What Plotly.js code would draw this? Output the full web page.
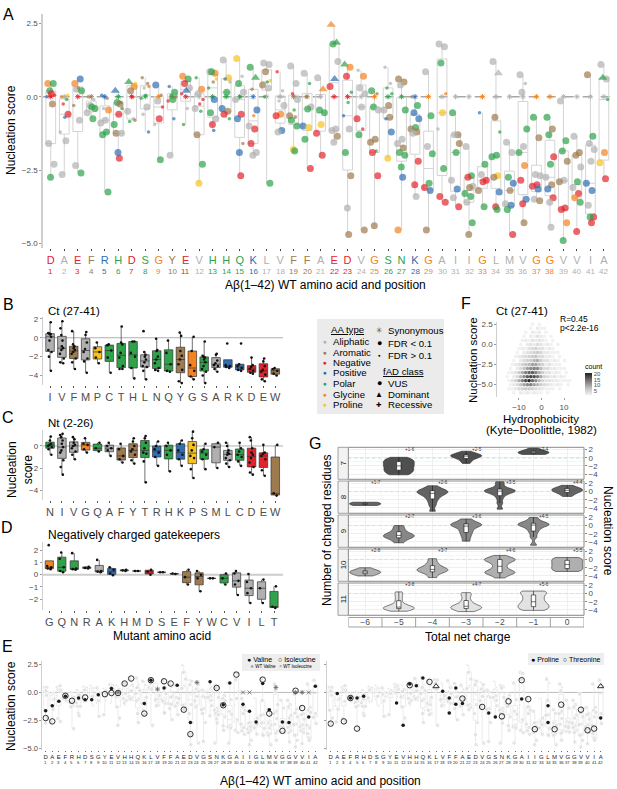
<!DOCTYPE html>
<html><head><meta charset="utf-8">
<script src="https://cdn.plot.ly/plotly-3.0.1.min.js"></script>
<style>body{margin:0;padding:0;background:#fff}#plot{width:617px;height:789px}</style>
</head><body><div id="plot"></div>
<script>
// ================= DATA =================
// Panel A: WT sequence and residue class (a aliphatic, r aromatic, n negative, p positive, o polar, g glycine, x proline)
const wtSeq  = ['D','A','E','F','R','H','D','S','G','Y','E','V','H','H','Q','K','L','V','F','F','A','E','D','V','G','S','N','K','G','A','I','I','G','L','M','V','G','G','V','V','I','A'];
const wtType = ['n','a','n','r','p','o','n','o','g','r','n','a','o','o','o','p','a','a','r','r','a','n','n','a','g','o','o','p','g','a','a','a','g','a','a','a','g','g','a','a','a','a'];
const synScore = [0,0,0,0,0,0,0,0,0,0,0,0,0,0,0,0,0,0,0,0,0,0,0,0,0,0,0,0,0,0,0,0,0,0,0,0,0,0,0,0,0,0];
// [position, nucleation score, mutant class, FDR<0.1 (1) or not (0), dominant fAD (1)]
const aPoints = [
[1,0.45,'g',1],[1,0.45,'o',1],[1,0.2,'o',1],[1,0.05,'n',0],[1,0.1,'n',1],[1,0,'p',0],[1,-0.25,'r',1],[1,-1.6,'a',1],[1,-2.3,'a',1],[1,-2.75,'o',1],
[2,0,'g',0],[2,-0.1,'o',0],[2,-0.25,'n',0],[2,-0.6,'n',1],[2,-0.7,'p',0],[2,-1.2,'a',0],[2,-1.5,'a',1],[2,-2.65,'a',1],[2,0.05,'x',0],
[3,0.45,'g',1],[3,0.6,'p',1],[3,0.25,'a',1],[3,0.2,'o',1],[3,0.3,'r',0],[3,-0.3,'r',0],[3,-0.8,'a',1],[3,-2.35,'a',1],[3,-2.6,'o',1],
[4,0,'r',0],[4,-0.1,'a',0],[4,-0.3,'a',1],[4,-0.4,'o',1],[4,-0.35,'o',1],[4,-0.55,'a',1],[4,-0.75,'o',1],
[5,0.05,'p',0],[5,-0.05,'r',0],[5,-0.4,'a',0],[5,-0.45,'g',1],[5,-0.8,'a',1],[5,-0.9,'a',1],[5,-1.2,'o',1],[5,-1.3,'o',1],[5,-3.25,'o',1],
[6,0.2,'p',1,1],[6,-0.2,'o',0],[6,-0.2,'o',1],[6,-0.4,'o',0],[6,-0.6,'n',1],[6,-0.95,'o',1],[6,-0.25,'r',1],[6,-1.25,'r',1],[6,-1.25,'a',1],[6,-1.9,'p',1],[6,-2.1,'n',1],
[7,0.5,'o',1,1],[7,0.35,'g',1],[7,0.2,'r',1],[7,0.45,'x',0],[7,0,'n',0],[7,-0.5,'a',1],[7,-0.75,'a',0],[7,-0.85,'o',0],[7,-0.8,'r',0],
[8,0.65,'r',0],[8,0.45,'r',0],[8,0.3,'a',0],[8,0.35,'g',0],[8,0.05,'o',0],[8,-0.05,'o',0],[8,-0.35,'a',1],[8,-0.6,'a',0],[8,-1.2,'p',0],
[9,0.4,'p',1],[9,0.05,'r',0],[9,-0.15,'a',1],[9,-0.35,'n',0],[9,-0.75,'n',1],[9,-0.95,'a',0],[9,-2.15,'o',1],
[10,0.35,'p',0],[10,0.15,'o',1],[10,0.05,'o',0],[10,0,'r',0],[10,-0.1,'o',1],[10,-0.15,'n',0],[10,-0.75,'p',0],[10,-2.0,'a',1],
[11,0.7,'g',1],[11,0.6,'o',1],[11,0.45,'n',1],[11,0.3,'a',1],[11,0.2,'p',1,1],[11,0.1,'n',0],[11,-0.4,'a',0],[11,-0.95,'o',0],
[12,0.65,'o',0],[12,0.25,'g',1],[12,0.1,'a',1],[12,-0.1,'n',0],[12,-0.25,'n',0],[12,-0.4,'a',1],[12,-0.5,'o',0],[12,-1.3,'r',1],[12,-2.3,'o',1],[12,-2.95,'x',1],
[13,0.85,'a',1],[13,0.8,'g',1],[13,0.85,'o',1],[13,0.6,'x',0],[13,0.5,'r',0],[13,0.3,'o',0],[13,-0.1,'p',1],[13,-0.55,'o',1],[13,-0.75,'a',1],[13,-0.95,'n',1],[13,-1.15,'p',0],
[14,1.25,'a',1],[14,0.65,'x',1],[14,0.6,'p',0],[14,0.5,'a',0],[14,0.15,'o',1],[14,-0.4,'p',1],[14,-0.5,'r',1],[14,-0.6,'n',1],[14,-0.75,'o',0],
[15,1.3,'x',1],[15,0.7,'a',0],[15,0.45,'o',1],[15,0.15,'a',1],[15,0,'o',0],[15,-0.1,'a',1],[15,-0.6,'n',1],[15,-0.75,'p',1],[15,-1.6,'r',0],[15,-1.9,'p',1],[15,-2.7,'n',1],
[16,1.0,'o',1],[16,0.65,'o',1,1],[16,0.25,'r',0],[16,-0.45,'p',1],[16,-0.65,'g',0],[16,-1.0,'a',1],[16,-1.1,'n',1],[16,-1.6,'n',1],[16,-1.9,'a',1],[16,-2.0,'a',1],
[17,1.15,'a',1],[17,1.1,'a',1],[17,0.85,'r',1],[17,0.55,'x',0],[17,0.5,'o',0],[17,0.4,'r',1],[17,0.3,'a',1],[17,0,'o',0],[17,-2.95,'o',1],
[18,0.85,'n',0],[18,0.2,'a',0],[18,-0.15,'a',0],[18,-0.3,'a',1],[18,-0.6,'g',1],[18,-0.65,'n',1],[18,-1.15,'p',1],[18,-1.2,'a',1],
[19,1.05,'a',1],[19,0.45,'a',1],[19,0.1,'n',0],[19,-0.1,'a',1],[19,-0.45,'o',0],[19,-0.65,'r',1],[19,-0.7,'r',0],[19,-0.8,'o',1],[19,-1.0,'o',1],[19,-1.8,'x',1],[19,-1.85,'o',1],
[20,0.8,'a',1],[20,0.45,'o',0],[20,0,'r',0],[20,-0.35,'a',1],[20,-0.42,'o',1],[20,-1.0,'p',1],[20,-1.05,'x',1],[20,-1.45,'o',1],[20,-2.45,'n',1],
[21,0.65,'a',1],[21,0.25,'g',1,1],[21,-0.45,'o',1],[21,-0.55,'o',1],[21,-0.95,'x',1],[21,-1.25,'n',1],[21,-2.0,'n',1],
[22,2.45,'g',1,1],[22,1.85,'o',1,1],[22,1.8,'o',1],[22,1.2,'a',1],[22,0.6,'p',1,1],[22,0.35,'n',1],[22,-1.1,'a',1],[22,-1.15,'a',1],[22,-1.35,'r',1],[22,-1.55,'a',1],
[23,1.1,'o',1,1],[23,1.0,'g',1],[23,0.7,'n',1],[23,0.15,'o',0],[23,-0.2,'o',0],[23,-0.65,'p',0],[23,-1.1,'a',1],[23,-1.9,'o',1],[23,-2.7,'r',1],[23,-3.8,'a',1],[23,-4.7,'r',1],
[24,0.9,'a',0],[24,0.7,'g',1],[24,0.3,'a',1],[24,0.1,'a',1],[24,-0.35,'a',1],[24,-0.75,'n',1],[24,-1.1,'n',0],[24,-1.3,'o',1],[24,-4.55,'r',1],
[25,0.2,'o',1],[25,0.1,'r',0],[25,-0.35,'o',1],[25,-0.45,'a',1],[25,-1.45,'r',1],[25,-1.55,'r',1],[25,-1.85,'o',0],[25,-1.9,'n',1],[25,-2.7,'n',1],[25,-4.4,'r',1],
[26,1.0,'a',0],[26,0.45,'a',0],[26,0.3,'o',0],[26,0.1,'o',0],[26,-0.3,'r',1],[26,-0.45,'a',1],[26,-0.7,'r',1],[26,-0.75,'p',0],[26,-1.2,'p',1],[26,-2.1,'x',1],
[27,0.6,'r',1],[27,0.5,'r',1],[27,0.4,'a',1],[27,-0.45,'o',1],[27,-1.45,'a',1],[27,-1.6,'a',1],[27,-1.75,'r',1],[27,-1.9,'o',1],[27,-2.0,'o',1],[27,-2.4,'o',1],[27,-2.75,'p',1],[27,-4.55,'g',1],
[28,0,'r',0],[28,-0.3,'o',1],[28,-0.55,'p',1],[28,-0.75,'p',1],[28,-1.05,'o',1],[28,-1.1,'r',1],[28,-1.2,'r',1],[28,-1.25,'a',1],[28,-2.2,'n',1],[28,-3.0,'n',1],[28,-3.4,'a',1],
[29,0.85,'a',1],[29,-0.65,'o',1],[29,-1.7,'a',1],[29,-1.95,'o',1],[29,-2.95,'o',1],[29,-3.1,'n',1],[29,-3.2,'p',1],[29,-4.55,'r',1],
[30,1.8,'a',1],[30,1.7,'a',1],[30,1.15,'o',1],[30,0.1,'g',0],[30,-0.55,'x',1],[30,-1.1,'a',0],[30,-2.45,'o',1],[30,-3.4,'n',1],[30,-3.6,'n',1],
[31,-0.55,'o',1],[31,-1.3,'r',1],[31,-1.3,'a',1],[31,-1.6,'r',1],[31,-1.9,'o',1],[31,-2.85,'a',1],[31,-3.15,'p',1],[31,-3.45,'a',1],[31,-3.75,'n',1],
[32,-1.7,'a',1],[32,-2.7,'o',1],[32,-2.75,'n',1],[32,-3.05,'a',1],[32,-3.1,'r',1],[32,-3.3,'o',1],[32,-3.4,'o',1],[32,-3.6,'a',1],[32,-4.3,'o',1],[32,-4.7,'r',1],
[33,-0.55,'p',0],[33,-2.3,'o',1],[33,-2.65,'a',1],[33,-2.85,'n',1],[33,-2.9,'n',1],[33,-3.2,'r',1],[33,-3.75,'o',1],
[34,1.2,'a',1],[34,0.8,'a',1,1],[34,-0.7,'r',1],[34,-1.2,'o',0],[34,-2.0,'o',1],[34,-2.05,'o',1],[34,-2.7,'x',1],[34,-2.75,'r',1],[34,-3.25,'p',1],[34,-3.75,'n',1],[34,-3.85,'o',1],
[35,-1.55,'a',1],[35,-1.9,'a',1],[35,-2.75,'o',1],[35,-2.95,'p',1],[35,-3.2,'r',1],[35,-3.65,'a',1],[35,-3.7,'p',1],[35,-3.85,'o',1],[35,-4.7,'n',1],
[36,0.75,'a',1],[36,0.45,'a',0],[36,0.15,'a',1],[36,-1.1,'o',1],[36,-1.7,'a',1],[36,-1.9,'o',1],[36,-2.35,'g',1],[36,-2.85,'n',1],[36,-3.5,'p',1],[36,-3.65,'n',1],[36,-4.3,'r',1],
[37,-0.7,'o',1],[37,-1.4,'r',1],[37,-2.65,'a',1],[37,-2.7,'a',1],[37,-3.0,'n',1],[37,-3.05,'n',1],[37,-3.15,'p',1],[37,-3.5,'a',1],[37,-3.55,'r',1],
[38,-0.7,'o',1],[38,-1.1,'r',1],[38,-1.3,'o',1],[38,-2.05,'n',1],[38,-2.3,'o',1],[38,-2.75,'a',1],[38,-3.0,'r',1],[38,-3.15,'p',1],[38,-3.45,'n',1],[38,-3.6,'a',1],[38,-4.45,'a',1],
[39,-0.15,'a',1],[39,-1.5,'o',1],[39,-1.85,'o',1],[39,-2.2,'r',1],[39,-2.85,'a',1],[39,-2.9,'r',1],[39,-3.8,'n',1],[39,-3.85,'n',1],[39,-4.3,'g',1],[39,-4.9,'o',1],
[40,-1.35,'a',1],[40,-1.9,'r',1],[40,-2.0,'r',1],[40,-2.4,'a',1],[40,-2.9,'o',1],[40,-3.1,'a',1],[40,-3.3,'n',1],[40,-3.45,'g',1],[40,-3.6,'o',1],[40,-4.6,'n',1],
[41,0.75,'r',1],[41,-1.35,'o',1],[41,-1.6,'a',1],[41,-1.8,'a',1],[41,-2.2,'a',1],[41,-2.95,'p',1],[41,-3.2,'p',1],[41,-3.7,'a',1],[41,-4.1,'n',1],[41,-4.1,'o',1],[41,-4.3,'n',1],
[42,1.1,'a',1],[42,0.6,'a',1],[42,0.65,'o',1,1],[42,-0.1,'o',0],[42,-1.9,'g',1],[42,-2.25,'x',1],[42,-2.8,'n',1]
];

// Panels B, C, D: mutant amino acids and scores
const aaClass = {A:'a',V:'a',I:'a',L:'a',M:'a',F:'r',Y:'r',W:'r',D:'n',E:'n',R:'p',K:'p',H:'o',N:'o',Q:'o',S:'o',T:'o',C:'o',G:'g',P:'x'};
const bCats = ['I','V','F','M','P','C','T','H','L','N','Q','Y','G','S','A','R','K','D','E','W'];
const bScores = [
 [1.65,0.5,0.45,0.35,0.1,-0.3,-1.3,-1.5,-2.0,-3.5,0.4],
 [1.75,1.0,0.3,-0.3,-0.9,-1.3,-1.7,-2.2,-2.6,-2.7,-1.1],
 [0.7,-0.7,-0.9,-1.3,-1.5,-1.7,-2.2,-2.6,-3.3,-1.1],
 [0.6,0.3,-0.5,-1.2,-1.5,-2.2,-2.5,-3.7],
 [-0.5,-1.1,-1.5,-2.1,-2.7],
 [-0.7,-0.8,-1.35,-2.1,-3.7],
 [1.2,-0.5,-0.7,-1.6,-3.0,-3.3,-3.3,-2.1],
 [-0.4,-0.4,-1.6,-2.0,-3.2,-4.3],
 [0.7,-1.5,-1.8,-2.0,-2.3,-2.6,-3.0,-3.1,-3.5,-4.4],
 [-0.1,-1.3,-1.4,-2.0,-2.3,-2.7,-3.2,-3.4,-3.5],
 [-0.3,-1.6,-2.8,-3.5,-3.6],
 [0.55,0.2,-1.4,-1.9,-2.3,-2.8,-3.4,-4.6,-4.8],
 [0.1,-1.4,-2.9,-3.5,-4.1,-4.4],
 [-0.4,-1.9,-2.0,-2.3,-2.6,-3.0,-3.3,-3.6,-4.0,-4.8,-2.1],
 [-1.7,-1.8,-2.4,-2.7,-2.9,-3.0,-3.3,-3.6],
 [-0.6,-2.9,-3.0,-3.1,-3.2],
 [-0.6,-2.8,-3.0,-3.2,-3.4,-3.5],
 [-2.1,-2.9,-3.1,-3.3,-3.5,-3.7,-3.8],
 [-2.2,-2.5,-3.0,-3.4,-3.6,-3.9,-4.4,-4.6],
 [-3.2,-3.5,-3.8,-4.0,-3.3]
];
const cCats = ['N','I','V','G','Q','A','F','Y','T','R','H','K','P','S','M','L','C','D','E','W'];
const cScores = [
 [0.85,0.5,0.2,0.1,0,-0.1,-0.3,-0.8],
 [1.1,1.0,0.8,0.5,0.2,-0.1,-0.4,-0.6,-1.3,-1.9,-2.6],
 [0.8,0.6,0.3,0.1,-0.2,-0.5,-0.8,-1.2,0.0],
 [0.7,0.2,0.1,-0.3,-0.6],
 [0.3,-0.2,-0.5],
 [0.3,0.0,-0.2,-0.4,-0.9],
 [0.2,-0.3,-0.9,-1.2,-1.5],
 [0.7,0.4,0,-0.3,-0.5,-0.8,-1.3,-1.6],
 [0.9,0.7,0.3,-0.2,-0.6,-0.7,-1.4,-3.3],
 [0.4,0.0,-0.3,-0.6,-1.0,-1.8],
 [0.3,0,-0.4,-0.8,-2.3],
 [0.5,0.2,-0.4,-0.8,-1.2,-1.8],
 [1.3,0.7,0.1,-0.4,-0.9,-1.1,-2.1,-2.9],
 [0.2,-0.3,-0.5,-0.8,-1.2,-2.1],
 [0.3,-0.1,-2.0],
 [0.3,0.0,-0.4,-0.6,-0.7,-0.8,-1.1,-1.3,-1.6,-1.9],
 [0.3,-0.2,-0.5,-0.8,-1.0,-1.4,-1.8],
 [0.8,0.5,-0.2,-0.6,-0.8,-1.1,-1.5,-1.9,-2.4,-2.6],
 [0.1,-0.6,-0.7,-0.9,-1.2,-2.2,-2.7],
 [0.1,-4.3,-4.5]
];
const dCats = ['G','Q','N','R','A','K','H','M','D','S','E','F','Y','W','C','V','I','L','T'];
const dScores = [
 [2.4,0.7,0.5,0.45,0.6],
 [1.8,0.6,0.3,0.2,1.3],
 [1.75,0.5,0.4,0.45],
 [0.65,0.55,0.5],
 [1.2,0.3,0.2,0.25],
 [0.6,0.4,0.1,-0.05],
 [0.4,0.35,0.3],
 [0.3,0.3],
 [0.4,0.25,0.0],
 [0.2,0.2],
 [0.1,0.05],
 [0.4,-0.2,-0.8],
 [0.3,0.0,-0.3,-1.35],
 [-0.3,-0.3],
 [0.1,-0.3,-0.8],
 [0.3,0.1,-0.5,-0.8,-1.65],
 [0.05,-0.6,-1.1,-1.5,-2.3],
 [-0.4,-1.1,-2.3],
 [-0.95,-2.6,-2.7]
];

// Panel E: highlighted mutants
const eValPos   = [1,2,3,4,6,7,8,9,11,16,17,19,21,23,26,28,29,31,32,33,34,35,37,38,41,42];
const eValScore = [-1.65,-1.2,-0.8,-0.35,-0.5,-0.65,-0.65,-0.2,0.35,-1.0,1.1,0.4,0.65,-2.7,0.95,-1.1,0.85,-1.05,-1.7,-2.65,0.8,-1.55,-2.65,-2.7,-2.2,0.55];
const eIlePos   = [1,2,4,5,7,10,11,12,13,14,16,17,19,20,22,23,27,28,30,34,35,37,39,40];
const eIleScore = [-2.3,-2.6,-0.3,-0.75,-0.45,-0.15,-0.05,-0.05,0.8,1.25,-1.9,1.1,1.0,0.8,-1.55,-3.75,0.4,-1.15,1.6,1.15,-1.9,-3.45,0.15,-1.4];
const eWtValPos = [12,18,24,36,39,40];
const eWtValScore = [0,0.3,0.9,0.45,0,0];
const eWtIlePos = [31,32,41];
const eWtIleScore = [0,0,0];
const eProPos   = [2,4,5,6,11,12,13,14,15,18,19,19,20,20,21,25,26,30,34,34,42];
const eProScore = [-0.1,-0.5,-0.5,-0.35,-0.95,-2.95,0.75,0.6,1.3,0.1,-0.5,-1.85,0.4,-1.05,-1.0,-1.85,-2.2,-0.6,-1.2,-2.7,-2.3];
const eThrPos   = [1,3,4,5,13,16,17,21,24,27,28,30,31,32,35,36,39,40,41,42];
const eThrScore = [-2.8,-2.6,-0.5,-3.25,0.65,0.95,0.55,-0.55,-1.3,-2.15,-0.8,1.1,-0.6,-3.3,-3.3,-1.1,-1.55,-3.4,-3.25,0.55];
const eThrDominant = [17,42];

// Panel F: hexbin counts (rows = score bins, columns = hydrophobicity bins)
const hexX = [-16,-14.5,-13,-11.5,-10,-8.5,-7,-5.5,-4,-2.5,-1,0.5,2,3.5,5,6.5,8,9.5,11,12.5];
const hexY = [2.5,2.0,1.5,1.0,0.5,0,-0.5,-1,-1.5,-2,-2.5,-3,-3.5,-4,-4.5,-5,-5.5,-6];
const hexCounts = [
 [0,0,0,0,0,0,0,0,1,0,1,0,0,0,0,0,0,0,0,0],
 [0,0,0,0,0,0,0,1,0,2,1,1,0,0,0,0,0,0,0,0],
 [0,0,0,0,0,0,1,0,2,1,2,0,1,0,0,0,0,0,0,0],
 [0,0,0,0,0,1,0,2,1,3,2,1,0,1,0,0,0,0,0,0],
 [0,0,0,0,0,1,2,1,3,2,3,2,1,0,1,0,0,0,0,0],
 [0,0,0,0,1,0,2,3,2,4,3,1,2,1,0,1,0,0,0,0],
 [0,0,0,0,1,2,1,3,4,5,3,3,1,2,1,0,0,0,0,0],
 [0,0,0,1,0,2,3,4,5,6,5,2,2,1,1,1,0,0,0,0],
 [0,0,0,1,2,3,4,5,6,7,4,4,2,2,1,0,1,0,0,0],
 [0,0,1,0,2,4,5,6,8,9,6,3,3,1,2,1,0,1,0,0],
 [0,0,1,2,3,5,7,8,10,10,7,5,2,3,1,1,1,0,0,0],
 [0,1,0,2,4,7,10,12,13,12,8,4,4,2,2,1,1,1,0,0],
 [0,1,2,3,6,9,13,15,16,13,9,6,3,3,1,2,1,0,1,0],
 [1,0,2,4,8,12,16,18,17,14,10,5,4,2,3,1,2,1,0,0],
 [0,1,3,5,9,13,17,20,15,12,8,5,3,3,2,2,1,1,1,1],
 [0,1,2,4,7,10,12,13,10,8,6,4,3,2,1,2,1,0,1,0],
 [0,1,1,2,4,5,6,6,5,4,3,2,1,1,1,0,1,0,0,0],
 [0,0,1,0,2,1,2,1,2,1,1,0,1,0,0,0,0,0,0,0]
];

// Panel G: violins by number of charged residues (rows) and total net charge (columns)
const gRows = [7,8,9,10,11];
const gCharges = [[-5,-3,-1],[-6,-4,-2,0],[-5,-3,-1],[-6,-4,-2,0],[-5,-3,-1]];
const gCharge = ['−6','−5','−4','−3','−2','−1','0'];
const gLabels = [['+1-6','+2-5','+3-4'],['+1-7','+2-6','+3-5','+4-4'],['+2-7','+3-6','+4-5'],['+2-8','+3-7','+4-6','+5-5'],['+3-8','+4-7','+5-6']];
const gScores = [
 [[0.1,-0.2,-0.5,-0.8,-1.0,-1.2,-1.5,-1.9,-2.0,-2.2,-2.6,-3.0,-3.0,-3.3,-3.7,-4.0,-4.2],
  [1.6,1.0,0.8,0.6,0.5,0.4,0.3,0.1,-0.3,-0.8,-1.4],
  [2.5,1.8,1.5,1.4,1.3,1.2,1.1,1.0,0.8]],
 [[-2.6,-2.8,-2.9,-3.0,-3.0,-3.1,-3.2,-3.4],
  [1.4,0.8,0.4,0.2,0.1,-0.2,-0.4,-0.5,-0.9,-1.3,-1.8,-2.5,-3.4,-4.8],
  [2.5,1.8,0.9,0.5,0.3,0.2,0.1,-0.1,-0.3,-0.8,-1.6,-2.8,-4.3],
  [1.5,1.0,0.8,0.6,0.4,0.3,0.2,0.0,-0.3,-0.7,-1.2]],
 [[0.0,-0.8,-1.5,-2.0,-2.3,-2.5,-2.7,-3.0,-3.4,-4.2],
  [1.6,1.0,0.5,0.3,0.2,0.0,-0.3,-0.8,-1.4,-2.0,-2.8,-3.8],
  [2.0,1.2,0.7,0.4,0.3,0.2,0.0,-0.4,-1.0,-1.7,-2.8,-4.8]],
 [[-2.0,-2.6,-2.9,-3.0,-3.1,-3.3,-3.6,-4.0],
  [0.2,-0.8,-1.5,-2.0,-2.3,-2.5,-2.7,-3.0,-3.4,-4.4],
  [1.0,0.3,0.1,0.0,-0.3,-0.7,-1.3,-2.0,-2.6,-3.0,-3.2,-3.3,-3.7,-4.5],
  [0.5,0.2,-0.2,-0.6,-1.0,-1.4,-1.8,-2.2,-2.6,-2.9]],
 [[0.4,-0.5,-1.5,-2.5,-3.0,-3.3,-3.5,-3.6,-3.7,-3.9,-4.3],
  [0.2,-0.5,-1.5,-2.3,-2.8,-3.1,-3.3,-3.5,-3.7,-4.0,-4.4],
  [0.6,0.3,-0.2,-0.8,-1.4,-2.0,-2.5,-2.9,-3.3,-3.7,-4.1]]
];

// ================= STYLE =================
const W = 617, H = 789;
const FONT = 'Liberation Sans, Arial, Helvetica, sans-serif';
const COL = {a:'#B0B0B0', r:'#9E7B4E', n:'#E3232B', p:'#2F6DB5', o:'#2EA34A', g:'#F4821F', x:'#F8C21C'};
const TICKC = '#4D4D4D';
const JIT = [-0.22,0.18,-0.08,0.28,0.04,-0.3,0.12,-0.16,0.24,-0.02,0.08,-0.26,0.2];
const dX = (a,b)=>[a/W, b/W];
const dY = (top,bottom)=>[1-bottom/H, 1-top/H];
const px = x=>x/W, py = y=>1-y/H;

function jitterX(pos){ const cnt={}; return pos.map(p=>{ const k=(cnt[p]=(cnt[p]||0)+1); return p+JIT[(k-1)%JIT.length]; }); }

const data = [];
const aPos = aPoints.map(p=>p[0]);
const aScore = aPoints.map(p=>p[1]);
const aJx = jitterX(aPos);
const posVals = wtSeq.map((_,i)=>i+1);

// ---------- Panel A ----------
data.push({type:'box', x:aPos, y:aScore, xaxis:'x', yaxis:'y', boxpoints:false, width:0.72, whiskerwidth:0,
  line:{color:'#D4D4D4', width:1}, fillcolor:'rgba(0,0,0,0)', hoverinfo:'skip', showlegend:false});
data.push({type:'scatter', mode:'markers', x:posVals, y:synScore, xaxis:'x', yaxis:'y',
  marker:{symbol:'asterisk-open', size:4.5, color:wtType.map(t=>COL[t]), line:{width:0.9, color:wtType.map(t=>COL[t])}}, showlegend:false, hoverinfo:'skip'});
data.push({type:'scatter', mode:'markers', x:aJx, y:aScore, xaxis:'x', yaxis:'y',
  marker:{color:aPoints.map(p=>COL[p[2]]), size:aPoints.map(p=>p[4]?8:(p[3]?7:3.5)),
  symbol:aPoints.map(p=>p[4]?'triangle-up':'circle'), line:{width:0}}, showlegend:false, hoverinfo:'skip'});

// ---------- Panels B, C, D ----------
function boxPanel(cats, scores, xa, ya, w){
  cats.forEach((c,i)=>{
    data.push({type:'box', x:scores[i].map(()=>c), y:scores[i], xaxis:xa, yaxis:ya, boxpoints:'all', jitter:0.6, pointpos:0,
      marker:{color:'#111', size:2.6}, fillcolor:COL[aaClass[c]], line:{color:'#333', width:0.7}, width:w, whiskerwidth:0,
      hoverinfo:'skip', showlegend:false});
  });
}
boxPanel(bCats, bScores, 'x2', 'y2', 0.72);
boxPanel(cCats, cScores, 'x3', 'y3', 0.72);
boxPanel(dCats, dScores, 'x4', 'y4', 0.66);

// ---------- Panel E ----------
['5','6'].forEach(k=>{
  data.push({type:'box', x:aPos, y:aScore, xaxis:'x'+k, yaxis:'y'+k, boxpoints:false, width:0.7, whiskerwidth:0,
    line:{color:'#E6E6E6', width:0.8}, fillcolor:'rgba(0,0,0,0)', hoverinfo:'skip', showlegend:false});
  data.push({type:'scatter', mode:'markers', x:aJx, y:aScore, xaxis:'x'+k, yaxis:'y'+k,
    marker:{color:'#DCDCDC', size:aPoints.map(p=>p[3]?4.5:2.5), symbol:aPoints.map(p=>p[4]?'triangle-up':'circle')}, hoverinfo:'skip', showlegend:false});
});
data.push({type:'scatter', mode:'markers', x:eValPos, y:eValScore, xaxis:'x5', yaxis:'y5', marker:{color:'#1a1a1a', size:3.5}, hoverinfo:'skip', showlegend:false});
data.push({type:'scatter', mode:'markers', x:eIlePos, y:eIleScore, xaxis:'x5', yaxis:'y5', marker:{symbol:'circle-open', color:'#1a1a1a', size:5.5, line:{width:0.9}}, hoverinfo:'skip', showlegend:false});
data.push({type:'scatter', mode:'markers', x:eWtValPos, y:eWtValScore, xaxis:'x5', yaxis:'y5', marker:{symbol:'asterisk-open', size:4, color:'#666', line:{width:0.8, color:'#666'}}, hoverinfo:'skip', showlegend:false});
data.push({type:'scatter', mode:'markers', x:eWtIlePos, y:eWtIleScore, xaxis:'x5', yaxis:'y5', marker:{symbol:'x-thin-open', size:4, color:'#666', line:{width:0.8, color:'#666'}}, hoverinfo:'skip', showlegend:false});
data.push({type:'scatter', mode:'markers', x:eProPos, y:eProScore, xaxis:'x6', yaxis:'y6', marker:{color:'#1a1a1a', size:3.5}, hoverinfo:'skip', showlegend:false});
data.push({type:'scatter', mode:'markers', x:eThrPos, y:eThrScore, xaxis:'x6', yaxis:'y6',
  marker:{symbol:eThrPos.map(p=>eThrDominant.includes(p)?'triangle-up-open':'circle-open'), color:'#1a1a1a', size:5.5, line:{width:0.9}}, hoverinfo:'skip', showlegend:false});

// ---------- Panel F ----------
const hx=[], hy=[], hc=[];
hexCounts.forEach((row,ri)=>row.forEach((c,ci)=>{ if(c>0){ hx.push(hexX[ci] + (ri%2 ? 0.75 : 0)); hy.push(hexY[ri]); hc.push(c); } }));
data.push({type:'scatter', mode:'markers', x:hx, y:hy, xaxis:'x7', yaxis:'y7',
  marker:{symbol:'hexagon', size:3.9, color:hc, cmin:1, cmax:21, colorscale:[[0,'#F1F1F1'],[0.3,'#C4C4C4'],[0.7,'#6A6A6A'],[1,'#202020']], line:{width:0},
    showscale:true, colorbar:{x:px(585), xanchor:'left', y:py(378), yanchor:'middle', len:34/H, lenmode:'fraction', thickness:7, thicknessmode:'pixels',
      tickvals:[5,10,15,20], tickfont:{size:6, color:TICKC}, ticks:'', outlinewidth:0, xpad:0, ypad:0,
      title:{text:'count', side:'top', font:{size:7}}}},
  hoverinfo:'skip', showlegend:false});

// ---------- Panel G ----------
const gFill = ['#4F4F4F','#636363','#878787','#AFAFAF','#E2E2E2'];
gRows.forEach((r,ri)=>{
  gCharges[ri].forEach((ch,ci)=>{
    const vals = gScores[ri][ci];
    data.push({type:'violin', x:vals.map(()=>ch), y:vals, xaxis:'x8', yaxis:'y'+(8+ri), fillcolor:gFill[ri], opacity:1,
      line:{color:'#2B2B2B', width:0.6}, points:false, spanmode:'hard', width:0.92, scalemode:'width', bandwidth:0.5,
      box:{visible:true, width:0.14, fillcolor:'#FFFFFF', line:{color:'#111', width:0.6}}, meanline:{visible:false},
      hoverinfo:'skip', showlegend:false});
  });
});

// ================= LAYOUT =================
const yTickBase = {tickfont:{size:8, color:TICKC}, ticks:'outside', ticklen:2, tickcolor:'#9A9A9A', showgrid:false, zeroline:false, showline:true, linecolor:'#CFCFCF', linewidth:1, color:TICKC};
const catX = (cats, dom, rng, anchor)=>({domain:dom, type:'category', categoryorder:'array', categoryarray:cats, range:rng, anchor:anchor,
  tickmode:'array', tickvals:cats, ticktext:cats, tickangle:0,
  tickfont:{size:11, color:TICKC}, ticks:'outside', ticklen:2, tickcolor:'#555', showgrid:false, zeroline:false, showline:false});
const gRowY = [[447.3,479.3],[481,513.3],[515,547.3],[549,581.3],[583,615.3]];

const layout = {
  width:W, height:H, margin:{l:0,r:0,t:0,b:0}, paper_bgcolor:'#fff', plot_bgcolor:'rgba(0,0,0,0)',
  font:{family:FONT, color:'#000'}, colorway:['#4D4D4D'], showlegend:false, boxmode:'overlay', violinmode:'overlay',
  // A
  xaxis:{domain:dX(42.7,612), range:[0.4,42.6], tickmode:'array', tickvals:posVals, tickangle:0,
    ticktext:wtSeq.map((aa,i)=>`<span style="color:${COL[wtType[i]]}">${aa}</span>`), tickfont:{size:11}, ticks:'outside', ticklen:2, tickcolor:'#444',
    showgrid:false, zeroline:false, showline:false, anchor:'y'},
  yaxis:Object.assign({}, yTickBase, {domain:dY(14,248), range:[-5.16,2.82], tickvals:[-5,-2.5,0,2.5], ticktext:['−5.0','−2.5','0.0','2.5'], anchor:'x', linewidth:1.5}),
  // B
  xaxis2:catX(bCats, dX(42.7,283), [-0.62,19.65], 'y2'),
  yaxis2:Object.assign({}, yTickBase, {domain:dY(317,385), range:[-5.0,2.2], tickvals:[-4,-2,0,2], ticktext:['−4','−2','0','2'], anchor:'x2'}),
  // C
  xaxis3:catX(cCats, dX(42.7,283), [-0.62,19.65], 'y3'),
  yaxis3:Object.assign({}, yTickBase, {domain:dY(430,500), range:[-4.9,1.45], tickvals:[-4,-2,0], ticktext:['−4','−2','0'], anchor:'x3'}),
  // D
  xaxis4:catX(dCats, dX(42.7,283), [-0.53,18.72], 'y4'),
  yaxis4:Object.assign({}, yTickBase, {domain:dY(541.7,610), range:[-2.87,2.68], tickvals:[-2,-1,0,1,2], ticktext:['−2','−1','0','1','2'], anchor:'x4'}),
  // E left
  xaxis5:{domain:dX(42.4,318.6), range:[0.5,42.5], tickmode:'array', tickvals:posVals, ticktext:wtSeq, tickangle:0, tickfont:{size:6, color:'#222'}, ticks:'outside', ticklen:1, tickcolor:'#666',
    showgrid:false, zeroline:false, showline:false, anchor:'y5'},
  yaxis5:Object.assign({}, yTickBase, {domain:dY(660.7,750), range:[-5.17,2.85], tickvals:[-5,-2.5,0,2.5], ticktext:['−5.0','−2.5','0.0','2.5'], tickfont:{size:7.5, color:TICKC}, anchor:'x5'}),
  // E right
  xaxis6:{domain:dX(327.4,604), range:[0.5,42.5], tickmode:'array', tickvals:posVals, ticktext:wtSeq, tickangle:0, tickfont:{size:6, color:'#222'}, ticks:'outside', ticklen:1, tickcolor:'#666',
    showgrid:false, zeroline:false, showline:false, anchor:'y6'},
  yaxis6:Object.assign({}, yTickBase, {domain:dY(660.7,750), range:[-5.17,2.85], tickvals:[-5,-2.5,0,2.5], showticklabels:false, anchor:'x6'}),
  // F
  xaxis7:{domain:dX(497.3,576.7), range:[-19.6,15.6], tickvals:[-10,0,10], ticktext:['−10','0','10'], tickfont:{size:8, color:TICKC}, ticks:'outside', ticklen:2, tickcolor:'#9A9A9A',
    showgrid:false, zeroline:false, showline:false, anchor:'y7'},
  yaxis7:Object.assign({}, yTickBase, {domain:dY(321.7,397.3), range:[-6.57,2.82], tickvals:[-5,-2.5,0,2.5], ticktext:['−5.0','−2.5','0.0','2.5'], anchor:'x7'}),
  // G shared x (free-positioned at the bottom of the last row)
  xaxis8:{domain:dX(348.3,584), range:[-6.5,0.5], tickmode:'array', tickvals:[-6,-5,-4,-3,-2,-1,0], ticktext:gCharge, tickfont:{size:8.5, color:TICKC}, ticks:'', color:TICKC,
    showgrid:true, gridcolor:'#EBEBEB', gridwidth:0.8, minor:{tickvals:[-6.5,-5.5,-4.5,-3.5,-2.5,-1.5,-0.5,0.5], showgrid:true, gridcolor:'#F3F3F3', gridwidth:0.6},
    zeroline:false, showline:false, anchor:'free', position:py(615.3)},
  shapes:[], annotations:[]
};
gRows.forEach((r,ri)=>{
  layout['yaxis'+(8+ri)] = {domain:dY(gRowY[ri][0], gRowY[ri][1]), range:[-5.3,2.56], anchor:'x8', side:'right', color:TICKC,
    tickmode:'array', tickvals:[-4,-2,0,2], ticktext:['−4','−2','0','2'], tickfont:{size:8, color:TICKC, family:FONT}, ticks:'outside', ticklen:2, tickcolor:'#888',
    showgrid:true, gridcolor:'#EBEBEB', gridwidth:0.8, minor:{tickvals:[-5,-3,-1,1], showgrid:true, gridcolor:'#F3F3F3', gridwidth:0.6},
    zeroline:false, showline:false};
});

// ---------- shapes ----------
const S = layout.shapes;
S.push({type:'line', xref:'x domain', yref:'y', x0:0, x1:1, y0:0, y1:0, line:{color:'#A8A8A8', width:1.5, dash:'dash'}, layer:'below'});
S.push({type:'line', xref:'x2 domain', yref:'y2', x0:0, x1:1, y0:0, y1:0, line:{color:'#9A9A9A', width:0.8}, layer:'below'});
S.push({type:'line', xref:'x3 domain', yref:'y3', x0:0, x1:1, y0:0, y1:0, line:{color:'#9A9A9A', width:0.8}, layer:'below'});
S.push({type:'line', xref:'x4 domain', yref:'y4', x0:0, x1:1, y0:0, y1:0, line:{color:'#CCCCCC', width:2}, layer:'below'});
S.push({type:'line', xref:'x5 domain', yref:'y5', x0:0, x1:1, y0:0, y1:0, line:{color:'#BBBBBB', width:1}, layer:'below'});
S.push({type:'line', xref:'x6 domain', yref:'y6', x0:0, x1:1, y0:0, y1:0, line:{color:'#BBBBBB', width:1}, layer:'below'});
// legend box
S.push({type:'rect', xref:'paper', yref:'paper', x0:px(317), x1:px(444), y0:py(414), y1:py(319), fillcolor:'#EBEBEB', line:{width:0}, layer:'below'});
// E legend boxes
S.push({type:'rect', xref:'paper', yref:'paper', x0:px(242), x1:px(320), y0:py(671), y1:py(654), fillcolor:'#EEEEEE', line:{width:0}, layer:'below'});
S.push({type:'rect', xref:'paper', yref:'paper', x0:px(528), x1:px(604), y0:py(665), y1:py(653), fillcolor:'#EEEEEE', line:{width:0}, layer:'below'});
// G frames
gRows.forEach((r,ri)=>{
  const ya = 'y'+(8+ri);
  S.push({type:'line', xref:'x8', yref:ya, x0:-6.5, x1:0.5, y0:0, y1:0, line:{color:'#5DBE9C', width:1, dash:'dot'}, layer:'below'});
  S.push({type:'rect', xref:'paper', yref:'paper', x0:px(348.3), x1:px(584), y0:py(gRowY[ri][1]), y1:py(gRowY[ri][0]), line:{color:'#8A8A8A', width:1}, fillcolor:'rgba(0,0,0,0)'});
  S.push({type:'rect', xref:'paper', yref:'paper', x0:px(338), x1:px(348.3), y0:py(gRowY[ri][1]), y1:py(gRowY[ri][0]), line:{color:'#8A8A8A', width:0.8}, fillcolor:'#F2F2F2'});
});
S.push({type:'rect', xref:'x8', yref:'paper', x0:-6.5, x1:0.5, y0:py(627), y1:py(617.5), line:{color:'#8A8A8A', width:0.8}, fillcolor:'rgba(0,0,0,0)'});
[-5.5,-4.5,-3.5,-2.5,-1.5,-0.5].forEach(v=>S.push({type:'line', xref:'x8', yref:'paper', x0:v, x1:v, y0:py(627), y1:py(617.5), line:{color:'#8A8A8A', width:0.8}}));

// ---------- annotations ----------
const AN = layout.annotations;
function ann(text, x, y, size, o){ AN.push(Object.assign({text:text, x:px(x), y:py(y), xref:'paper', yref:'paper', showarrow:false,
  xanchor:'center', yanchor:'middle', font:{size:size, color:'#000', family:FONT}}, o||{})); }
// panel letters
ann('A', 8, 14, 16); ann('B', 8, 305, 16); ann('C', 8, 417, 16); ann('D', 7, 527, 16); ann('E', 7, 646, 16); ann('F', 466, 303, 16); ann('G', 315, 443, 16);
// A position numbers and titles
posVals.forEach((p,i)=>AN.push({text:String(p), xref:'x', yref:'paper', x:p, y:py(271), showarrow:false,
  font:{size:8, color:COL[wtType[i]], family:FONT}}));
ann('Nucleation score', 11, 130, 12, {textangle:-90});
ann('Aβ(1–42) WT amino acid and position', 325, 285, 12);
// B-D titles
ann('Ct (27-41)', 46, 311, 11.5, {xanchor:'left'});
ann('Nt (2-26)', 46, 423, 11.5, {xanchor:'left'});
ann('Negatively charged gatekeepers', 46, 535, 12, {xanchor:'left'});
ann('Nucleation<br>score', 20, 470, 12, {textangle:-90});
ann('Mutant amino acid', 162, 636, 12);
// legend
const LF = 9.6;
ann('<u>AA type</u>', 347, 329, LF);
const legItems = [['Aliphatic','a'],['Aromatic','r'],['Negative','n'],['Positive','p'],['Polar','o'],['Glycine','g'],['Proline','x']];
const legY = [341.7,352,362.3,372.7,383.3,394,404.7];
legItems.forEach((it,i)=>{
  ann(`<span style="color:${COL[it[1]]}">●</span>`, 325, legY[i], 6.5);
  ann(it[0], 331, legY[i], LF, {xanchor:'left'});
});
ann('✳', 379, 330, 8, {font:{size:8, color:'#555', family:'DejaVu Sans'}});
ann('Synonymous', 386, 330, LF, {xanchor:'left'});
ann('●', 379, 343.3, 9); ann('FDR < 0.1', 386, 343.3, LF, {xanchor:'left'});
ann('●', 379, 355, 4.5); ann('FDR > 0.1', 386, 355, LF, {xanchor:'left'});
ann('<u>fAD class</u>', 403, 371.7, LF);
ann('●', 379, 383.3, 9); ann('VUS', 386, 383.3, LF, {xanchor:'left'});
ann('▲', 379, 394.3, 8); ann('Dominant', 386, 394.3, LF, {xanchor:'left'});
ann('✚', 379, 405, 6.5, {font:{size:6.5, color:'#000', family:'DejaVu Sans'}}); ann('Recessive', 386, 405, LF, {xanchor:'left'});
// F
ann('Ct (27-41)', 522, 311, 11.5);
ann('R=0.45', 558, 319, 8.5, {xanchor:'left'});
ann('p<2.2e-16', 558, 328.5, 8.5, {xanchor:'left'});
ann('Nucleation score', 473, 360, 11.5, {textangle:-90});
ann('Hydrophobicity', 541, 418.5, 11.5);
ann('(Kyte−Doolittle, 1982)', 541, 430.5, 11.5);
// G
ann('Number of charged residues', 327, 531, 12, {textangle:-90});
ann('Nucleation score', 608, 531, 12, {textangle:90});
ann('Total net charge', 468, 637, 12);
gRows.forEach((r,ri)=>{
  ann(String(r), 343.2, (gRowY[ri][0]+gRowY[ri][1])/2, 8, {textangle:-90, font:{size:8, color:'#222222', family:FONT}});
  gCharges[ri].forEach((ch,ci)=>{
    AN.push({text:gLabels[ri][ci], xref:'x8', yref:'y'+(8+ri), x:ch+0.32, y:2.1, showarrow:false, font:{size:4.5, color:'#333', family:FONT}});
  });
});
// E
ann('Nucleation score', 11, 706, 12, {textangle:-90});
ann('Aβ(1–42) WT amino acid and position', 320, 781, 12);
ann('<span style="color:#111">●</span> Valine   ○ Isoleucine', 281, 659, 7);
ann('<span style="color:#777">∗</span> WT Valine   <span style="color:#777">×</span> WT Isoleucine', 281, 666.5, 4.5);
ann('● Proline  ○ Threonine', 566, 659, 7);
posVals.forEach(p=>{
  AN.push({text:String(p), xref:'x5', yref:'paper', x:p, y:py(766.5), showarrow:false, font:{size:4.2, color:'#222', family:FONT}});
  AN.push({text:String(p), xref:'x6', yref:'paper', x:p, y:py(766.5), showarrow:false, font:{size:4.2, color:'#222', family:FONT}});
});

Plotly.newPlot('plot', data, layout, {staticPlot:true, displayModeBar:false});
</script>
</body></html>
